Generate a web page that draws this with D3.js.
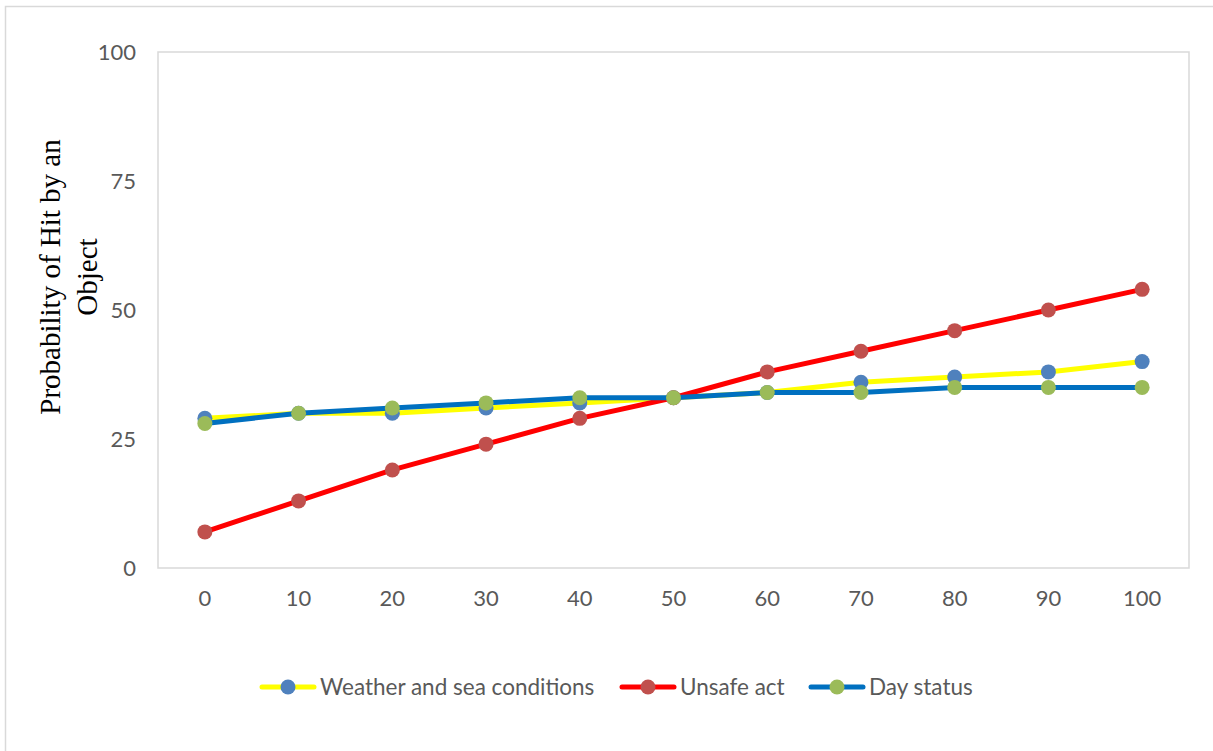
<!DOCTYPE html>
<html>
<head>
<meta charset="utf-8">
<script src="https://cdn.jsdelivr.net/npm/d3@7/dist/d3.min.js"></script>
<style>
  html, body { margin: 0; padding: 0; background: #fff; }
  svg { display: block; }
</style>
</head>
<body>
<script>
// Categories along the horizontal axis
const categories = ["0", "10", "20", "30", "40", "50", "60", "70", "80", "90", "100"];
// Series values
const weatherSea = [29, 30, 30, 31, 32, 33, 34, 36, 37, 38, 40];
const unsafeAct  = [7, 13, 19, 24, 29, 33, 38, 42, 46, 50, 54];
const dayStatus  = [28, 30, 31, 32, 33, 33, 34, 34, 35, 35, 35];
// Vertical axis ticks
const yTicks = [0, 25, 50, 75, 100];

const series = [
  { name: "Weather and sea conditions", values: weatherSea, line: "#FFFF00", marker: "#4F81BD" },
  { name: "Unsafe act",                 values: unsafeAct,  line: "#FF0000", marker: "#C0504D" },
  { name: "Day status",                 values: dayStatus,  line: "#0070C0", marker: "#9BBB59" }
];

const W = 1213, H = 751;
const plot = { left: 158, top: 52, right: 1189, bottom: 568 };
const tickFont = "Lato, 'Open Sans', sans-serif";

const svg = d3.select("body").append("svg").attr("width", W).attr("height", H);

// chart frame
svg.append("rect")
  .attr("x", 5.5).attr("y", 6.5).attr("width", W + 10).attr("height", H + 10)
  .attr("fill", "#fff").attr("stroke", "#d9d9d9").attr("stroke-width", 1.5);

// plot area frame
svg.append("rect")
  .attr("x", plot.left).attr("y", plot.top)
  .attr("width", plot.right - plot.left).attr("height", plot.bottom - plot.top)
  .attr("fill", "none").attr("stroke", "#d9d9d9").attr("stroke-width", 1.5);

const x = d3.scaleBand().domain(categories).range([plot.left, plot.right]);
const y = d3.scaleLinear().domain([0, 100]).range([plot.bottom, plot.top]);
const cx = c => x(c) + x.bandwidth() / 2;

// y axis labels
const yAxis = svg.append("g")
  .attr("transform", `translate(${plot.left - 22},0)`)
  .call(d3.axisLeft(y).tickValues(yTicks).tickSize(0).tickPadding(0));
yAxis.select(".domain").remove();
yAxis.selectAll("text")
  .attr("fill", "#595959").style("font-family", tickFont).style("font-size", "22px");

// x axis labels
const xAxis = svg.append("g")
  .attr("transform", `translate(0,${plot.bottom + 22})`)
  .call(d3.axisBottom(x).tickSize(0).tickPadding(0));
xAxis.select(".domain").remove();
xAxis.selectAll("text")
  .attr("fill", "#595959").style("font-family", tickFont).style("font-size", "22px");

// y axis title
const title = svg.append("text")
  .attr("transform", "translate(0,277) rotate(-90)")
  .attr("text-anchor", "middle")
  .attr("fill", "#000")
  .style("font-family", "'Liberation Serif', 'Times New Roman', serif")
  .style("font-size", "29px");
title.append("tspan").attr("x", 0).attr("y", 60).text("Probability of Hit by an");
title.append("tspan").attr("x", 0).attr("y", 97).text("Object");

// series lines and markers
const line = d3.line().x((d, i) => cx(categories[i])).y(d => y(d));
series.forEach(s => {
  const g = svg.append("g");
  g.append("path")
    .attr("d", line(s.values))
    .attr("fill", "none").attr("stroke", s.line)
    .attr("stroke-width", 5).attr("stroke-linejoin", "round").attr("stroke-linecap", "round");
  g.selectAll("circle").data(s.values).join("circle")
    .attr("cx", (d, i) => cx(categories[i]))
    .attr("cy", d => y(d))
    .attr("r", 7.5)
    .attr("fill", s.marker);
});

// legend
const legendX = [260, 620, 809];
const legendY = 687;
series.forEach((s, i) => {
  const g = svg.append("g").attr("transform", `translate(${legendX[i]},${legendY})`);
  g.append("line").attr("x1", 2).attr("x2", 54).attr("y1", 0).attr("y2", 0)
    .attr("stroke", s.line).attr("stroke-width", 5).attr("stroke-linecap", "round");
  g.append("circle").attr("cx", 28).attr("cy", 0).attr("r", 7.5).attr("fill", s.marker);
  g.append("text").attr("x", 60).attr("y", 0).attr("dy", "0.35em")
    .attr("fill", "#595959").style("font-family", tickFont).style("font-size", "22.5px")
    .text(s.name);
});
</script>
</body>
</html>
